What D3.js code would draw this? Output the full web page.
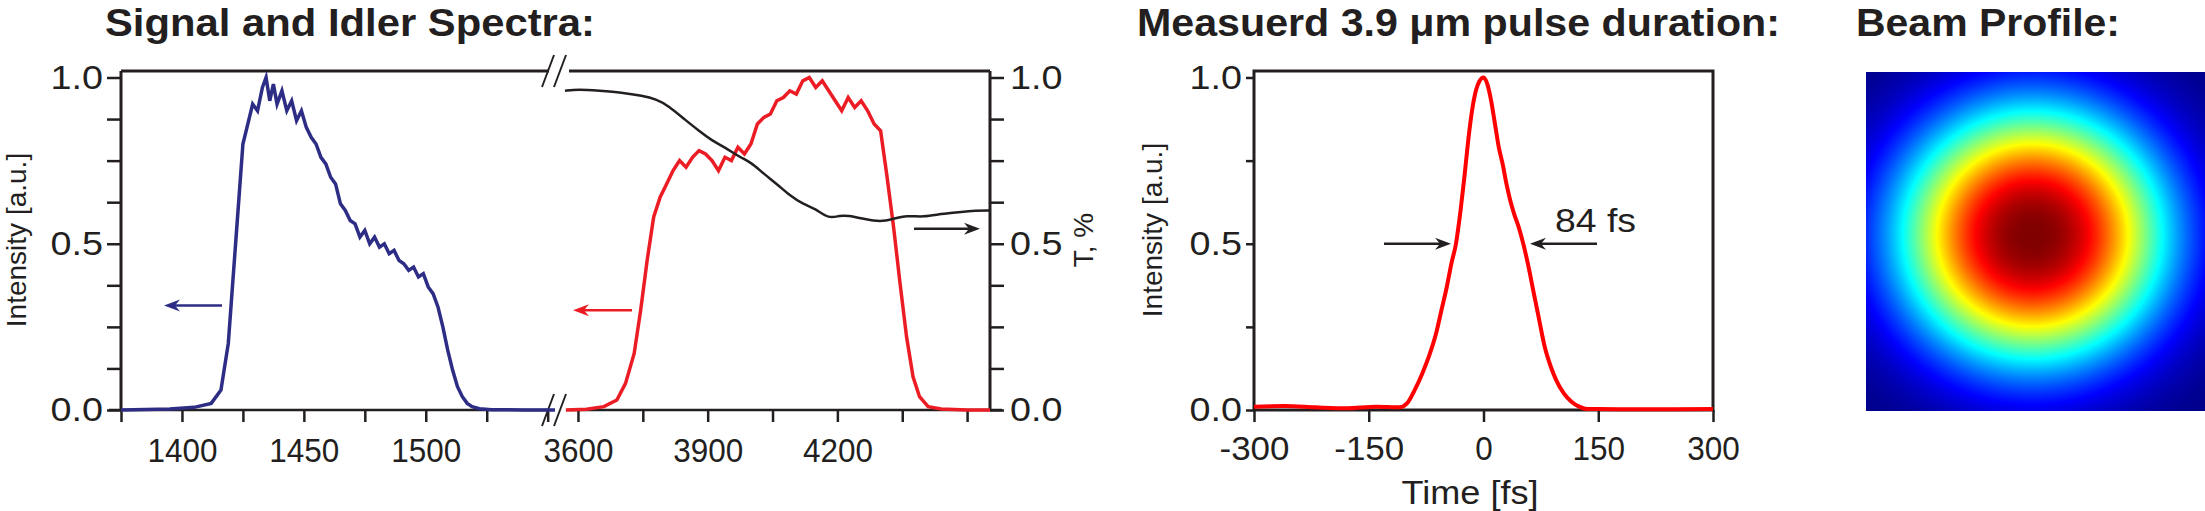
<!DOCTYPE html>
<html><head><meta charset="utf-8">
<script src="https://cdn.jsdelivr.net/npm/d3@7"></script>
<style>
body{margin:0;background:#fff;}
svg{display:block;}
.tk text{font-family:"Liberation Sans",Arial,sans-serif;font-size:34px;fill:#231f20;}
.tk path,.tk line{stroke:#231f20;stroke-width:2.5px;}
</style></head>
<body>
<svg id="fig" width="2205" height="511"></svg>
<script>
// signal spectrum (nm, intensity)
const signalNm = [1375,1395,1405,1412,1416,1419,1422,1425,1427,1429,1431,1433,1434.5,1436,1437.5,1439,1441,1443,1445,1447,1449,1451,1453,1455,1457,1459,1461,1463,1465,1467,1469,1471,1473,1475,1477,1479,1481,1483,1485,1487,1489,1491,1493,1495,1497,1499,1501,1503,1505,1507,1509,1511,1513,1515,1517,1519,1522,1527,1540,1553];
const signalI = [0,0.003,0.008,0.02,0.06,0.2,0.5,0.8,0.86,0.92,0.9,0.97,1.0,0.93,0.98,0.92,0.96,0.9,0.93,0.87,0.9,0.85,0.82,0.8,0.76,0.74,0.7,0.68,0.62,0.6,0.57,0.56,0.52,0.54,0.5,0.52,0.49,0.5,0.47,0.48,0.45,0.44,0.42,0.43,0.4,0.41,0.37,0.35,0.31,0.25,0.18,0.12,0.07,0.04,0.02,0.01,0.004,0.001,0,0];
// idler spectrum (nm, intensity)
const idlerNm = [3572,3620,3660,3690,3710,3730,3745,3760,3775,3790,3805,3820,3835,3850,3865,3880,3895,3910,3925,3940,3955,3970,3985,4000,4015,4030,4045,4060,4075,4090,4105,4120,4135,4150,4165,4180,4195,4210,4225,4240,4255,4270,4285,4300,4315,4330,4345,4360,4375,4390,4410,4440,4500,4553];
const idlerI = [0,0.002,0.01,0.03,0.08,0.17,0.3,0.45,0.58,0.64,0.68,0.72,0.75,0.73,0.76,0.78,0.77,0.75,0.72,0.76,0.75,0.79,0.77,0.8,0.86,0.88,0.89,0.93,0.94,0.96,0.95,0.99,1.0,0.97,0.99,0.96,0.93,0.9,0.94,0.91,0.93,0.9,0.86,0.84,0.7,0.55,0.38,0.22,0.1,0.04,0.01,0.003,0,0];
// transmission T
const transNm = [3570,3600,3650,3700,3750,3780,3810,3850,3880,3910,3940,3975,4000,4030,4060,4090,4120,4150,4180,4205,4225,4260,4300,4330,4360,4400,4440,4480,4520,4553];
const transT = [0.96,0.965,0.96,0.955,0.945,0.935,0.915,0.87,0.84,0.81,0.79,0.76,0.745,0.71,0.68,0.645,0.62,0.605,0.575,0.585,0.585,0.575,0.565,0.575,0.585,0.58,0.59,0.595,0.6,0.6];
// pulse
const pulseT = [-300,-260,-220,-180,-140,-110,-100,-90,-80,-70,-62,-55,-48,-42,-36,-30,-25,-20,-15,-10,-5,0,5,10,15,20,25,30,35,40,46,52,58,65,72,80,88,95,105,115,125,135,150,200,250,300];
const pulseI = [0.01,0.012,0.008,0.005,0.01,0.008,0.02,0.06,0.11,0.17,0.23,0.3,0.37,0.44,0.5,0.6,0.7,0.81,0.9,0.96,0.99,1.0,0.98,0.93,0.86,0.79,0.74,0.68,0.63,0.59,0.55,0.5,0.44,0.36,0.28,0.19,0.13,0.09,0.05,0.025,0.01,0.003,0.003,0.002,0.002,0.003];
const leftTicks = [1375,1400,1425,1450,1475,1500,1525,1550];
const leftLabels = [1400,1450,1500];
const rightTicks = [3600,3750,3900,4050,4200,4350,4500];
const rightLabels = [3600,3900,4200];
const yTicks = [0,0.125,0.25,0.375,0.5,0.625,0.75,0.875,1];
const timeTicks = [-300,-150,0,150,300];
// beam profile: centre (fraction of image), width (px), exponent
const beamCenter = [0.49, 0.48];
const beamWidth = [131, 125];
const beamPower = 2.4;

const svg = d3.select('#fig');
const ink = '#231f20';
const yTop = 71, yBot = 410;
const y = d3.scaleLinear().domain([0, 1]).range([yBot, 77.5]);
const fmt = d => (d === 0 || d === 0.5 || d === 1) ? d.toFixed(1) : '';
// condensed look for tick labels
function narrow(sel, per) {
  sel.selectAll('text').each(function() {
    const s = this.textContent;
    if (s) d3.select(this).attr('textLength', per * s.length).attr('lengthAdjust', 'spacingAndGlyphs');
  });
}

// ---------- panel 1 ----------
const x1 = d3.scaleLinear().domain([1375, 1553]).range([121, 555]);
const x2 = d3.scaleLinear().domain([3570, 4553]).range([565, 990]);

svg.append('text').attr('x', 105).attr('y', 36).attr('font-family', '"Liberation Sans",sans-serif')
  .attr('font-weight', 'bold').attr('font-size', 38).attr('fill', ink)
  .attr('textLength', 490).attr('lengthAdjust', 'spacingAndGlyphs').text('Signal and Idler Spectra:');

const box = svg.append('g').attr('stroke', ink).attr('stroke-width', 3).attr('fill', 'none');
box.append('line').attr('x1', 121).attr('x2', 549).attr('y1', yTop).attr('y2', yTop);
box.append('line').attr('x1', 569).attr('x2', 990).attr('y1', yTop).attr('y2', yTop);
box.append('line').attr('x1', 121).attr('x2', 121).attr('y1', yTop).attr('y2', yBot);
box.append('line').attr('x1', 990).attr('x2', 990).attr('y1', yTop).attr('y2', yBot);

const ax1 = svg.append('g').attr('class', 'tk').attr('transform', `translate(0,${yBot})`)
  .call(d3.axisBottom(x1).tickValues(leftTicks).tickSize(12).tickSizeOuter(0).tickFormat(d => leftLabels.includes(d) ? d : '').tickPadding(16));
ax1.select('.domain').attr('d', `M${x1.range()[0] - 12},0H549`);
const ax2 = svg.append('g').attr('class', 'tk').attr('transform', `translate(0,${yBot})`)
  .call(d3.axisBottom(x2).tickValues(rightTicks).tickSize(12).tickSizeOuter(0).tickFormat(d => rightLabels.includes(d) ? d : '').tickPadding(16));
ax2.select('.domain').attr('d', 'M569,0H1002');

const yl = svg.append('g').attr('class', 'tk').attr('transform', 'translate(121,0)')
  .call(d3.axisLeft(y).tickValues(yTicks).tickSize(14).tickSizeOuter(0).tickFormat(fmt).tickPadding(4));
yl.select('.domain').remove();
const yr = svg.append('g').attr('class', 'tk').attr('transform', 'translate(990,0)')
  .call(d3.axisRight(y).tickValues(yTicks).tickSize(14).tickSizeOuter(0).tickFormat(fmt).tickPadding(6));
yr.select('.domain').remove();
[ax1, ax2, yl, yr].forEach(a => narrow(a, 17.5));

// break marks
[yTop, yBot].forEach(yy => {
  box.append('rect').attr('x', 550).attr('y', yy - 4).attr('width', 18).attr('height', 8).attr('fill', '#fff').attr('stroke', 'none');
  [-7, 5].forEach(o => box.append('line').attr('stroke-width', 2)
    .attr('x1', 549 + o).attr('y1', yy + 16).attr('x2', 561 + o).attr('y2', yy - 16));
});

svg.append('text').attr('transform', 'translate(26,240) rotate(-90)').attr('text-anchor', 'middle')
  .attr('font-family', '"Liberation Sans",Arial,sans-serif').attr('font-size', 28).attr('fill', ink).text('Intensity [a.u.]');
svg.append('text').attr('transform', 'translate(1093,240) rotate(-90)').attr('text-anchor', 'middle')
  .attr('font-family', '"Liberation Sans",Arial,sans-serif').attr('font-size', 28).attr('fill', ink).text('T, %');

const line1 = d3.line().x((d, i) => x1(signalNm[i])).y(d => y(d));
const line2 = d3.line().x((d, i) => x2(idlerNm[i])).y(d => y(d));
const line3 = d3.line().x((d, i) => x2(transNm[i])).y(d => y(d)).curve(d3.curveBasis);
svg.append('path').attr('d', line1(signalI)).attr('fill', 'none').attr('stroke', '#2e2d86').attr('stroke-width', 3.5);
svg.append('path').attr('d', line2(idlerI)).attr('fill', 'none').attr('stroke', '#ec1c24').attr('stroke-width', 3.5);
svg.append('path').attr('d', line3(transT)).attr('fill', 'none').attr('stroke', ink).attr('stroke-width', 2.5);

function arrow(xa, xb, yy, col) {
  const dir = Math.sign(xb - xa);
  svg.append('line').attr('x1', xa).attr('x2', xb - dir * 6).attr('y1', yy).attr('y2', yy).attr('stroke', col).attr('stroke-width', 2.5);
  svg.append('path').attr('d', `M${xb},${yy}L${xb - dir * 16},${yy - 6}L${xb - dir * 11},${yy}L${xb - dir * 16},${yy + 6}Z`).attr('fill', col);
}
arrow(222, 164, y(0.314), '#2e2d86');
arrow(632, 573, y(0.3), '#ec1c24');
arrow(914, 980, y(0.545), ink);

// ---------- panel 2 ----------
const xt = d3.scaleLinear().domain([-300, 300]).range([1254, 1713]);
svg.append('text').attr('x', 1137).attr('y', 36).attr('font-family', '"Liberation Sans",sans-serif')
  .attr('font-weight', 'bold').attr('font-size', 38).attr('fill', ink)
  .attr('textLength', 643).attr('lengthAdjust', 'spacingAndGlyphs').text('Measuerd 3.9 μm pulse duration:');
const box2 = svg.append('g').attr('stroke', ink).attr('stroke-width', 3).attr('fill', 'none');
box2.append('rect').attr('x', 1254).attr('y', yTop).attr('width', 459).attr('height', yBot - yTop);
const at = svg.append('g').attr('class', 'tk').attr('transform', `translate(0,${yBot})`)
  .call(d3.axisBottom(xt).tickValues(timeTicks).tickSize(12).tickSizeOuter(0).tickPadding(14).tickFormat(d => String(d)));
at.selectAll('.tick line').attr('stroke-width', 5);
at.select('.domain').remove();
const ya = svg.append('g').attr('class', 'tk').attr('transform', 'translate(1254,0)')
  .call(d3.axisLeft(y).tickValues([0, 0.25, 0.5, 0.75, 1]).tickSize(8).tickSizeOuter(0).tickFormat(fmt).tickPadding(4));
ya.select('.domain').remove();
[at, ya].forEach(a => narrow(a, 17.5));
svg.append('text').attr('transform', 'translate(1162,230) rotate(-90)').attr('text-anchor', 'middle')
  .attr('font-family', '"Liberation Sans",Arial,sans-serif').attr('font-size', 28).attr('fill', ink).text('Intensity [a.u.]');
svg.append('text').attr('x', 1470).attr('y', 504).attr('text-anchor', 'middle')
  .attr('font-family', '"Liberation Sans",sans-serif').attr('font-size', 33).attr('fill', ink)
  .attr('textLength', 137).attr('lengthAdjust', 'spacingAndGlyphs').text('Time [fs]');
const lineP = d3.line().x((d, i) => xt(pulseT[i])).y(d => y(d)).curve(d3.curveMonotoneX);
svg.append('path').attr('d', lineP(pulseI)).attr('fill', 'none').attr('stroke', '#ff0000').attr('stroke-width', 4);
arrow(1384, 1451, y(0.5), ink);
arrow(1597, 1530, y(0.5), ink);
svg.append('text').attr('x', 1555).attr('y', 232).attr('font-family', '"Liberation Sans",sans-serif')
  .attr('font-size', 34).attr('fill', ink).attr('textLength', 81).attr('lengthAdjust', 'spacingAndGlyphs').text('84 fs');

// ---------- panel 3 ----------
svg.append('text').attr('x', 1856).attr('y', 36).attr('font-family', '"Liberation Sans",sans-serif')
  .attr('font-weight', 'bold').attr('font-size', 38).attr('fill', ink)
  .attr('textLength', 264).attr('lengthAdjust', 'spacingAndGlyphs').text('Beam Profile:');
const bw = 339, bh = 339;
function jet(v) {
  const c = t => Math.max(0, Math.min(1, t));
  const r = c(1.5 - Math.abs(4 * v - 3)), g = c(1.5 - Math.abs(4 * v - 2)), b = c(1.5 - Math.abs(4 * v - 1));
  return [r * 255, g * 255, b * 255];
}
const fo = svg.append('foreignObject').attr('x', 1866).attr('y', 72).attr('width', bw).attr('height', bh);
const cv = fo.append('xhtml:canvas').attr('width', bw).attr('height', bh).style('display', 'block').node();
const ctx = cv.getContext('2d');
const img = ctx.createImageData(bw, bh);
const cx = beamCenter[0] * bw, cy = beamCenter[1] * bh;
for (let j = 0; j < bh; j++) for (let i = 0; i < bw; i++) {
  const r = Math.hypot((i - cx) / beamWidth[0], (j - cy) / beamWidth[1]);
  const v = Math.exp(-Math.pow(r, beamPower));
  const [cr, cg, cb] = jet(v);
  const k = 4 * (j * bw + i);
  img.data[k] = cr; img.data[k + 1] = cg; img.data[k + 2] = cb; img.data[k + 3] = 255;
}
ctx.putImageData(img, 0, 0);
</script>
</body></html>
